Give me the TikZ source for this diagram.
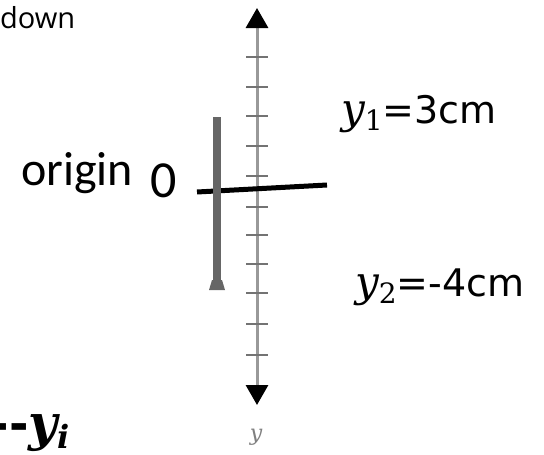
\documentclass[tikz,border=0pt]{standalone}
\usepackage{fontspec}
\setmainfont{DejaVu Sans}
\newfontfamily\calfont{Carlito}
\newfontfamily\downfont{Open Sans}
\newfontfamily\yfont{DejaVu Serif}
\usetikzlibrary{arrows.meta}

\tikzset{
  axisline/.style = {draw=gray!80, line width=3pt,
    {Triangle[width=22pt,length=20pt,color=black]}-{Triangle[width=22pt,length=20pt,color=black]}},
  tickmark/.style = {draw=gray!90!black, line width=2.5pt},
  label/.style = {inner sep=0pt, anchor=base west},
}

\begin{document}
\begin{tikzpicture}[x=1pt, y=-1pt]
            \useasboundingbox (0,0) rectangle (544,455);

            % axis with ticks
            \coordinate (ytop) at (257,8);
            \coordinate (ybot) at (257,405);
            \draw[axisline] (ytop) -- (ybot);
            \foreach \ty in {57,87,116,146,176,207,235,264,293,324,355}
                \draw[tickmark] (246,\ty) -- (268,\ty);
            \node[inner sep=0pt, text=gray] (yname) at (256,437) {\yfont\itshape\fontsize{22}{24}\selectfont y};

            % reference line and bar
            \coordinate (oleft) at (197,192);
            \coordinate (oright) at (327,185);
            \draw[line width=5pt] (oleft) -- (oright);
            \coordinate (bartop) at (217,117);
            \coordinate (barbot) at (217,284);
            \draw[draw=black!60, line width=8pt] (bartop) -- (barbot);
            \fill[black!60] (212,280) -- (222,280) -- (225,290) -- (209,290) -- cycle;

            % texts
            \node[label] (down) at (0,28) {\downfont\fontsize{29}{32}\selectfont down};
            \node[label] (orig) at (21,185) {\calfont\fontsize{48}{52}\selectfont origin};
            \node[label] (zero) at (150,197) {\calfont\fontsize{52}{56}\selectfont 0};
            \node[label] (yone) at (341,123) {\fontsize{38}{40}\selectfont
                {\yfont\itshape\fontsize{42}{44}\selectfont y}\raisebox{-7pt}{\yfont\fontsize{28}{28}\selectfont 1}=3cm};
            \node[label] (ytwo) at (355,296) {\fontsize{38}{40}\selectfont
                {\yfont\itshape\fontsize{42}{44}\selectfont y}\raisebox{-7pt}{\yfont\fontsize{28}{28}\selectfont 2}=-4cm};
            \node[label, anchor=base east] (yi) at (70,440) {\fontsize{47}{50}\selectfont\bfseries
                {-}{-}{\yfont\itshape\fontsize{50}{52}\selectfont y}\raisebox{-8pt}{\yfont\itshape\fontsize{32}{32}\selectfont i}};
\end{tikzpicture}
\end{document}
